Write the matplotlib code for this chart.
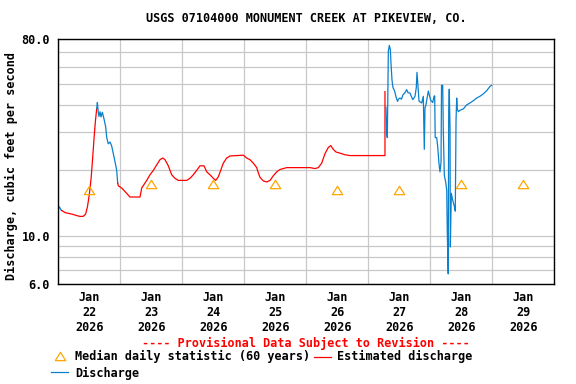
#!/usr/bin/env python3
"""USGS-style 7-day hydrograph, Monument Creek at Pikeview, CO."""

import matplotlib
matplotlib.use("Agg")
import matplotlib.pyplot as plt
from matplotlib.lines import Line2D
from matplotlib.ticker import NullLocator
import numpy as np

# ---------------------------------------------------------------------------
# Data (time in days since Jan 22 2026 00:00, discharge in cfs)
# ---------------------------------------------------------------------------
DAY_LABELS = ["Jan\n22\n2026", "Jan\n23\n2026", "Jan\n24\n2026", "Jan\n25\n2026",
              "Jan\n26\n2026", "Jan\n27\n2026", "Jan\n28\n2026", "Jan\n29\n2026"]

# median daily statistic (60 years), one per day at noon
median_t = [0.5, 1.5, 2.5, 3.5, 4.5, 5.5, 6.5, 7.5]
median_q = [16.2, 17.3, 17.3, 17.3, 16.2, 16.2, 17.3, 17.3]

# measured discharge, first stub
dis0_t = [0.0, 0.02, 0.04, 0.055]
dis0_q = [13.3, 13.6, 13.2, 13.1]

# estimated discharge, Jan 22 rise
est1_t = [0.055, 0.11, 0.22, 0.30, 0.35, 0.40, 0.44, 0.47, 0.50, 0.53,
          0.555, 0.58, 0.60, 0.62]
est1_q = [13.1, 12.8, 12.6, 12.4, 12.3, 12.3, 12.6, 13.6, 15.5, 18.5,
          23.0, 29.0, 34.0, 38.5]

# measured discharge, Jan 22 peak
dis1_t = [0.62, 0.63, 0.645, 0.656, 0.673, 0.689, 0.71, 0.737, 0.765, 0.781,
          0.806, 0.834, 0.861, 0.887, 0.915, 0.942, 0.958]
dis1_q = [38.5, 41.0, 37.0, 35.4, 37.2, 35.2, 37.0, 34.5, 31.6, 28.3,
          26.5, 27.0, 25.9, 23.9, 21.9, 20.0, 17.5]

# estimated discharge, Jan 22 - Jan 27
est2_t = [0.958, 0.968, 1.023, 1.076, 1.129, 1.156, 1.318, 1.345, 1.426, 1.479,
          1.532, 1.587, 1.640, 1.684, 1.721, 1.774, 1.829, 1.882, 1.935, 2.071,
          2.124, 2.177, 2.232, 2.285, 2.350, 2.394, 2.447, 2.500, 2.539, 2.581,
          2.619, 2.661, 2.716, 2.769, 2.984, 3.039, 3.092, 3.145, 3.200, 3.226,
          3.253, 3.306, 3.361, 3.415, 3.468, 3.523, 3.576, 3.684, 4.060, 4.140,
          4.194, 4.248, 4.302, 4.355, 4.394, 4.435, 4.479, 4.544, 4.624, 4.705,
          5.269, 5.269]
est2_q = [17.5, 17.0, 16.6, 16.0, 15.4, 15.1, 15.1, 16.6, 18.0, 19.1,
          20.0, 21.2, 22.4, 22.8, 22.4, 21.0, 19.1, 18.4, 18.0, 18.0,
          18.4, 19.1, 20.0, 21.0, 21.0, 19.7, 19.1, 18.4, 18.0, 18.7,
          20.0, 21.6, 22.8, 23.3, 23.5, 22.8, 22.4, 21.6, 20.6, 19.5,
          18.6, 17.9, 17.7, 18.0, 18.9, 19.7, 20.2, 20.6, 20.6, 20.4,
          20.6, 21.6, 23.9, 25.5, 26.0, 25.0, 24.3, 24.0, 23.6, 23.4,
          23.4, 46.0]

# measured discharge, Jan 27 onwards
dis2_t = [5.285, 5.297, 5.306, 5.313, 5.323, 5.339, 5.355, 5.366, 5.382, 5.398,
          5.423, 5.447, 5.471, 5.487, 5.511, 5.535, 5.560, 5.592, 5.619, 5.640,
          5.673, 5.716, 5.737, 5.753, 5.774, 5.785, 5.798, 5.818, 5.861, 5.887,
          5.903, 5.915, 5.926, 5.968, 6.006, 6.039, 6.060, 6.071, 6.079, 6.103,
          6.119, 6.140, 6.156, 6.173, 6.181, 6.200, 6.210, 6.226, 6.248, 6.265,
          6.274, 6.289, 6.297, 6.306, 6.318, 6.323, 6.339, 6.361, 6.387, 6.403,
          6.415, 6.426, 6.435, 6.452, 6.479, 6.532, 6.587, 6.640, 6.694, 6.748,
          6.801, 6.855, 6.910, 6.963, 6.990]
dis2_q = [39.0, 30.0, 28.3, 39.0, 70.5, 75.0, 72.0, 62.0, 52.0, 48.0,
          46.5, 43.5, 41.5, 42.5, 43.0, 42.5, 44.5, 45.5, 47.0, 45.5,
          45.3, 42.3, 43.0, 43.8, 48.0, 56.4, 50.3, 41.6, 40.8, 43.8,
          25.0, 39.0, 39.5, 46.3, 42.0, 41.0, 43.8, 44.0, 28.3, 28.3,
          25.8, 21.5, 19.7, 21.8, 49.2, 49.2, 30.2, 19.0, 17.7, 16.2,
          10.4, 6.7, 38.3, 47.2, 31.5, 8.9, 15.7, 14.6, 13.7, 13.0,
          34.1, 43.0, 38.3, 37.2, 37.8, 38.3, 40.0, 40.8, 41.8, 43.0,
          43.8, 44.9, 46.5, 48.6, 49.2]

Y_TICKS = [6, 7, 8, 9, 10, 20, 30, 40, 50, 60, 70, 80]
Y_LABELS = ["6.0", "", "", "", "10.0", "", "", "", "", "", "", "80.0"]

# ---------------------------------------------------------------------------
# Style
# ---------------------------------------------------------------------------
RED = "#FF0000"
BLUE = "#0A80CC"
ORANGE = "#FFA500"
GRID = "#C8C8C8"
FONT = dict(family="DejaVu Sans Mono", weight="bold", size=8.5)
TRI = [(-1, -0.8), (1, -0.8), (0, 0.8), (-1, -0.8)]

W, H = 576, 384
fig = plt.figure(figsize=(W / 100, H / 100), dpi=100)
ax = fig.add_axes([58.3 / W, 1 - 284.3 / H, 496 / W, 245 / H])

ax.set_yscale("log")
ax.set_ylim(6, 80)
ax.set_xlim(0, 8)

ax.set_yticks(Y_TICKS)
ax.set_yticklabels(Y_LABELS, **FONT)
ax.yaxis.set_minor_locator(NullLocator())
ax.set_xticks(np.arange(9))
ax.set_xticklabels([])
ax.set_xticks(np.arange(8) + 0.5, minor=True)
ax.set_xticklabels(DAY_LABELS, minor=True, **FONT)
ax.tick_params(axis="both", which="both", length=0)
ax.tick_params(axis="y", pad=6)
ax.tick_params(axis="x", which="minor", pad=5)
ax.grid(True, which="major", color=GRID, lw=0.9)
ax.set_axisbelow(True)
for s in ax.spines.values():
    s.set_linewidth(1.0)

lw = 0.9
ax.plot(dis0_t, dis0_q, color=BLUE, lw=lw)
ax.plot(est1_t, est1_q, color=RED, lw=lw)
ax.plot(dis1_t, dis1_q, color=BLUE, lw=lw)
ax.plot(est2_t, est2_q, color=RED, lw=lw)
ax.plot(dis2_t, dis2_q, color=BLUE, lw=lw)
ax.plot(median_t, median_q, ls="none", marker=TRI, ms=7.5, mfc="none",
        mec=ORANGE, mew=0.9, zorder=5)

# titles
fig.text(306.3 / W, 1 - 19 / H, "USGS 07104000 MONUMENT CREEK AT PIKEVIEW, CO.",
         ha="center", va="center", **FONT)
fig.text(11 / W, 1 - 166.5 / H, "Discharge, cubic feet per second",
         rotation=90, ha="center", va="center", **FONT)
fig.text(305.5 / W, 1 - 343 / H, "---- Provisional Data Subject to Revision ----",
         ha="center", va="center", color=RED, **FONT)

# legend, drawn by hand
fig.add_artist(Line2D([60.3 / W], [1 - 356 / H], transform=fig.transFigure,
                      ls="none", marker=TRI, ms=7.5, mfc="none", mec=ORANGE, mew=0.9))
fig.text(75 / W, 1 - 356.7 / H, "Median daily statistic (60 years)",
         ha="left", va="center", **FONT)
fig.add_artist(Line2D([314.3 / W, 331 / W], [1 - 356.7 / H] * 2,
                      transform=fig.transFigure, color=RED, lw=lw))
fig.text(336.7 / W, 1 - 356.7 / H, "Estimated discharge",
         ha="left", va="center", **FONT)
fig.add_artist(Line2D([50.7 / W, 68.3 / W], [1 - 372.3 / H] * 2,
                      transform=fig.transFigure, color=BLUE, lw=lw))
fig.text(75 / W, 1 - 373.3 / H, "Discharge", ha="left", va="center", **FONT)

fig.savefig("out.png", dpi=100, facecolor="white")
